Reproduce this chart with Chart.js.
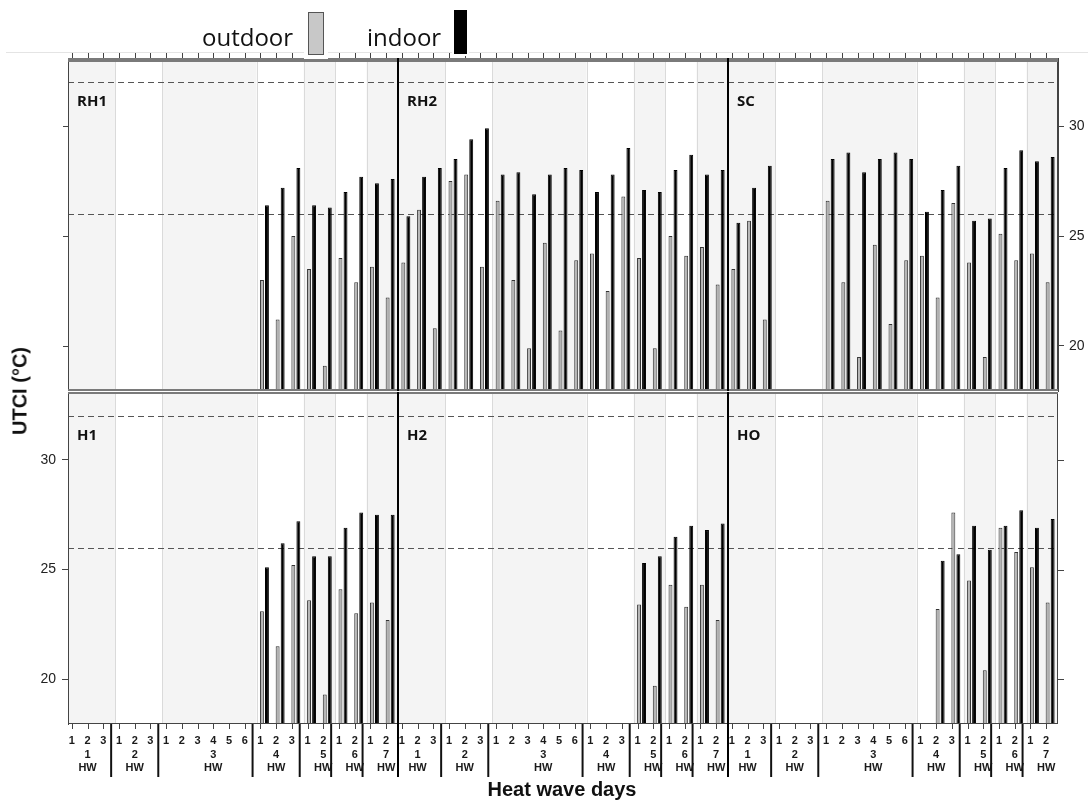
<!DOCTYPE html>
<html>
<head>
<meta charset="utf-8">
<script src="https://cdn.jsdelivr.net/npm/chart.js@4/dist/chart.umd.min.js"></script>
<style>
  body { margin: 0; background: #fff; width: 1088px; height: 803px; position: relative; overflow: hidden; }
  .abs { position: absolute; }
  .lg { position: absolute; font-family: "Open Sans", sans-serif; font-size: 24px; line-height: 1; color: #111; }
  .ttl { position: absolute; font-family: "Liberation Sans", Arial, sans-serif; font-weight: bold; font-size: 20px; color: #111; white-space: nowrap; transform: translate(-50%, -50%); }
</style>
</head>
<body>
<div class="abs" style="left:0;top:0;width:1088px;height:412px"><canvas id="topChart" width="1088" height="412"></canvas></div>
<div class="abs" style="left:0;top:372px;width:1088px;height:431px"><canvas id="botChart" width="1088" height="431"></canvas></div>

<div class="abs" style="left:6px;top:52px;width:1082px;height:1px;background:#e4e4e4"></div>
<div class="lg" style="left:202px;top:25px">outdoor</div>
<div class="abs" style="left:308px;top:12px;width:16px;height:43px;box-sizing:border-box;background:#c8c8c8;border:1px solid #555;box-shadow:0 0 0 4px #fff"></div>
<div class="lg" style="left:367px;top:25px">indoor</div>
<div class="abs" style="left:454px;top:10px;width:13px;height:44px;background:#000;box-shadow:0 0 0 2px #fff"></div>

<div class="ttl" style="left:20px;top:391px;transform:translate(-50%,-50%) rotate(-90deg)">UTCI (°C)</div>
<div class="ttl" style="left:562px;top:789px">Heat wave days</div>

<script>
'use strict';

(function () {
  // days in each heat wave (HW1..HW7), same for every site panel
  const hwDays = [3, 3, 6, 3, 2, 2, 2];
  const topSites = ['RH1', 'RH2', 'SC'];
  const bottomSites = ['H1', 'H2', 'HO'];
  const yTicks = [20, 25, 30];
  const refLines = [26, 32];
  const Y_MIN = 17.95;
  const Y_MAX = 33.1;

  // UTCI (°C) per heat wave day, 21 days per site, null = not measured
  const rh1Out = [null, null, null, null, null, null, null, null, null, null, null, null,
    23.0, 21.2, 25.0, 23.5, 19.1, 24.0, 22.9, 23.6, 22.2];
  const rh1In = [null, null, null, null, null, null, null, null, null, null, null, null,
    26.4, 27.2, 28.1, 26.4, 26.3, 27.0, 27.7, 27.4, 27.6];
  const rh2Out = [23.8, 26.2, 20.8, 27.5, 27.8, 23.6, 26.6, 23.0, 19.9, 24.7, 20.7, 23.9,
    24.2, 22.5, 26.8, 24.0, 19.9, 25.0, 24.1, 24.5, 22.8];
  const rh2In = [25.9, 27.7, 28.1, 28.5, 29.4, 29.9, 27.8, 27.9, 26.9, 27.8, 28.1, 28.0,
    27.0, 27.8, 29.0, 27.1, 27.0, 28.0, 28.7, 27.8, 28.0];
  const scOut = [23.5, 25.7, 21.2, null, null, null, 26.6, 22.9, 19.5, 24.6, 21.0, 23.9,
    24.1, 22.2, 26.5, 23.8, 19.5, 25.1, 23.9, 24.2, 22.9];
  const scIn = [25.6, 27.2, 28.2, null, null, null, 28.5, 28.8, 27.9, 28.5, 28.8, 28.5,
    26.1, 27.1, 28.2, 25.7, 25.8, 28.1, 28.9, 28.4, 28.6];
  const h1Out = [null, null, null, null, null, null, null, null, null, null, null, null,
    23.1, 21.5, 25.2, 23.6, 19.3, 24.1, 23.0, 23.5, 22.7];
  const h1In = [null, null, null, null, null, null, null, null, null, null, null, null,
    25.1, 26.2, 27.2, 25.6, 25.6, 26.9, 27.6, 27.5, 27.5];
  const h2Out = [null, null, null, null, null, null, null, null, null, null, null, null,
    null, null, null, 23.4, 19.7, 24.3, 23.3, 24.3, 22.7];
  const h2In = [null, null, null, null, null, null, null, null, null, null, null, null,
    null, null, null, 25.3, 25.6, 26.5, 27.0, 26.8, 27.1];
  const hoOut = [null, null, null, null, null, null, null, null, null, null, null, null,
    null, 23.2, 27.6, 24.5, 20.4, 26.9, 25.8, 25.1, 23.5];
  const hoIn = [null, null, null, null, null, null, null, null, null, null, null, null,
    null, 25.4, 25.7, 27.0, 25.9, 27.0, 27.7, 26.9, 27.3];

  const daysPerPanel = hwDays.reduce((s, n) => s + n, 0);

  // day numbers; the middle day of each wave also carries the wave number and "HW"
  function panelLabels() {
    const out = [];
    hwDays.forEach((n, g) => {
      const mid = Math.floor(n / 2) + 1;
      for (let d = 1; d <= n; d++) {
        out.push(d === mid ? [String(d), String(g + 1), 'HW'] : String(d));
      }
    });
    return out;
  }
  const labels = [...panelLabels(), ...panelLabels(), ...panelLabels()];

  const TICK_SHIFT = -4; // day ticks sit a little left of the bar pair

  function line(ctx, x0, y0, x1, y1) {
    ctx.beginPath();
    ctx.moveTo(x0, y0);
    ctx.lineTo(x1, y1);
    ctx.stroke();
  }

  const panelDecor = {
    id: 'panelDecor',
    beforeDatasetsDraw(chart) {
      const { ctx, chartArea: a, scales: { x, y } } = chart;
      const half = (x.getPixelForValue(1) - x.getPixelForValue(0)) / 2;
      ctx.save();
      let i = 0;
      for (let p = 0; p < 3; p++) {
        hwDays.forEach((n, g) => {
          const x0 = x.getPixelForValue(i) - half;
          const x1 = x.getPixelForValue(i + n - 1) + half;
          if (g % 2 === 0) {
            ctx.fillStyle = '#f4f4f4';
            ctx.fillRect(x0, a.top, x1 - x0, a.bottom - a.top);
          }
          if (g > 0) {
            ctx.strokeStyle = '#dadada';
            ctx.lineWidth = 1;
            line(ctx, Math.round(x0) + 0.5, a.top, Math.round(x0) + 0.5, a.bottom);
          }
          i += n;
        });
      }
      ctx.setLineDash([6, 4]);
      ctx.strokeStyle = '#555';
      ctx.lineWidth = 1;
      refLines.forEach((v) => {
        const py = Math.round(y.getPixelForValue(v)) + 0.5;
        line(ctx, a.left, py, a.right, py);
      });
      ctx.restore();
    },
    afterDatasetsDraw(chart, args, opts) {
      const { ctx, chartArea: a, scales: { x, y } } = chart;
      const half = (x.getPixelForValue(1) - x.getPixelForValue(0)) / 2;
      const isTop = opts.row === 'top';
      ctx.save();

      // frame
      ctx.strokeStyle = '#444';
      ctx.lineWidth = 1;
      ctx.strokeRect(a.left + 0.5, a.top + 0.5, a.right - a.left - 1, a.bottom - a.top - 1);
      ctx.fillStyle = '#7a7a7a';
      if (isTop) {
        ctx.fillRect(a.left, a.top, a.right - a.left, 4);
        ctx.fillRect(a.left, a.bottom - 2, a.right - a.left, 2);
      } else {
        ctx.fillRect(a.left, a.top, a.right - a.left, 2);
      }

      // day tick marks (top edge on the upper row, bottom edge on the lower row)
      ctx.strokeStyle = '#444';
      for (let i = 0; i < labels.length; i++) {
        const px = Math.round(x.getPixelForValue(i) + TICK_SHIFT) + 0.5;
        if (isTop) line(ctx, px, a.top - 5, px, a.top);
        else line(ctx, px, a.bottom, px, a.bottom + 5);
      }

      // y tick marks on the side without labels
      yTicks.forEach((v) => {
        const py = Math.round(y.getPixelForValue(v)) + 0.5;
        if (isTop) line(ctx, a.left - 5, py, a.left, py);
        else line(ctx, a.right, py, a.right + 6, py);
      });

      // wave separators under the axis
      ctx.strokeStyle = '#111';
      ctx.lineWidth = 2;
      if (!isTop) {
        let i = 0;
        for (let p = 0; p < 3; p++) {
          hwDays.forEach((n, g) => {
            if (g > 0) {
              const px = x.getPixelForValue(i) - half + TICK_SHIFT;
              line(ctx, px, a.bottom, px, a.bottom + 53);
            }
            i += n;
          });
        }
      }

      // panel separators and site names
      for (let p = 0; p < 3; p++) {
        const left = p === 0 ? a.left : x.getPixelForValue(p * daysPerPanel) - half;
        if (p > 0) {
          ctx.strokeStyle = '#000';
          ctx.lineWidth = 2;
          line(ctx, left, a.top, left, isTop ? a.bottom : a.bottom + 53);
        }
        ctx.fillStyle = '#111';
        ctx.font = 'bold 15px "Open Sans", sans-serif';
        ctx.textBaseline = 'alphabetic';
        ctx.fillText(opts.names[p], left + 9, a.top + 48);
      }
      ctx.restore();
    },
  };

  function makeChart(canvasId, outVals, inVals, row, names) {
    const isTop = row === 'top';
    const tickFont = { family: '"Liberation Sans", Arial, sans-serif', size: 14 };
    return new Chart(document.getElementById(canvasId), {
      type: 'bar',
      data: {
        labels: labels,
        datasets: [
          {
            label: 'outdoor', data: outVals, base: Y_MIN,
            backgroundColor: '#b4b4b4', borderColor: '#333', borderWidth: 1,
            barPercentage: 0.78, categoryPercentage: 0.64,
          },
          {
            label: 'indoor', data: inVals, base: Y_MIN,
            backgroundColor: '#000', borderColor: '#000', borderWidth: 1,
            barPercentage: 0.78, categoryPercentage: 0.64,
          },
        ],
      },
      options: {
        responsive: false,
        animation: false,
        events: [],
        layout: { padding: isTop ? { left: 68, top: 58, right: 0, bottom: 21 } : { left: 0, top: 20, right: 30, bottom: 0 } },
        plugins: {
          legend: { display: false },
          tooltip: { enabled: false },
          panelDecor: { row: row, names: names },
        },
        scales: {
          x: {
            display: !isTop,
            grid: { display: false },
            border: { display: false },
            afterFit: (s) => { if (!isTop) s.height = 79; },
            ticks: {
              autoSkip: false, maxRotation: 0, minRotation: 0,
              padding: 2, labelOffset: TICK_SHIFT, color: '#1a1a1a',
              font: { family: '"Liberation Sans", Arial, sans-serif', size: 11, weight: 'bold', lineHeight: 1.25 },
            },
          },
          y: {
            position: isTop ? 'right' : 'left',
            min: Y_MIN,
            max: Y_MAX,
            afterBuildTicks: (s) => { s.ticks = yTicks.map((v) => ({ value: v })); },
            afterFit: (s) => { s.width = isTop ? 30 : 68; },
            grid: { drawOnChartArea: false, tickLength: 6, color: '#444' },
            border: { display: true, color: '#444' },
            ticks: { color: '#222', padding: isTop ? 5 : 6, font: tickFont },
          },
        },
      },
      plugins: [panelDecor],
    });
  }

  if (window.Chart) {
    makeChart('topChart', [...rh1Out, ...rh2Out, ...scOut], [...rh1In, ...rh2In, ...scIn], 'top', topSites);
    makeChart('botChart', [...h1Out, ...h2Out, ...hoOut], [...h1In, ...h2In, ...hoIn], 'bottom', bottomSites);
  }
})();
</script>
</body>
</html>
